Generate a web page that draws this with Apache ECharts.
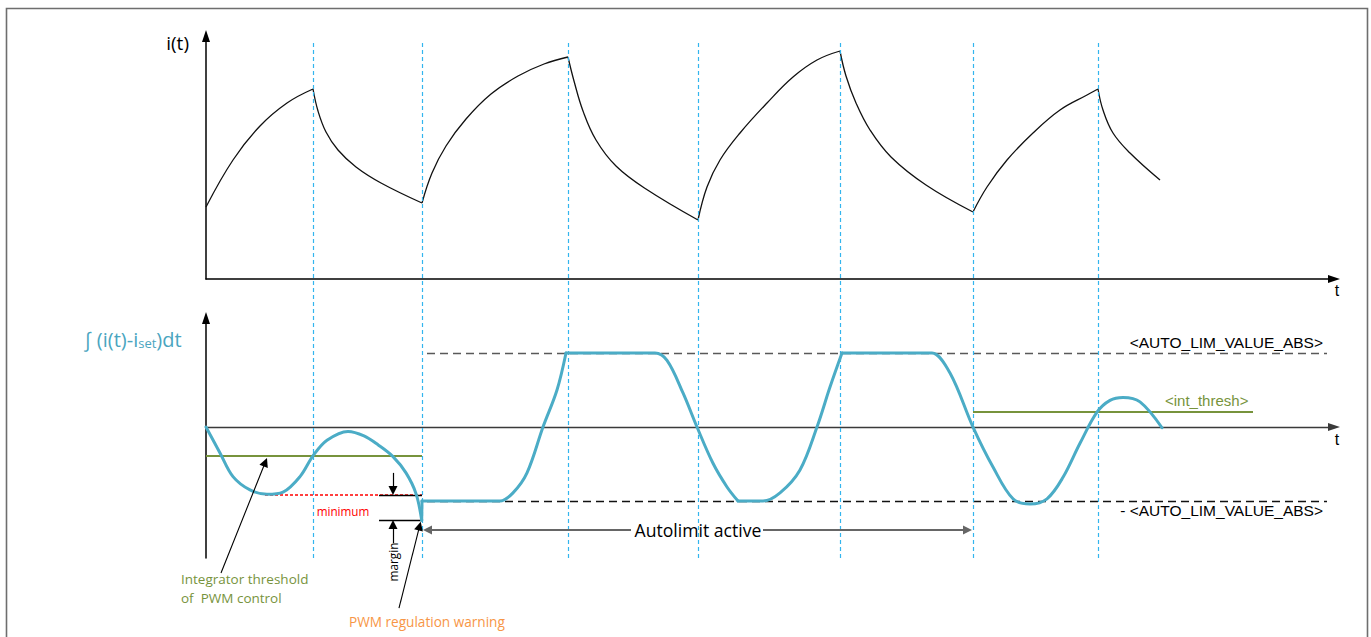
<!DOCTYPE html>
<html><head><meta charset="utf-8">
<script src="https://cdn.jsdelivr.net/npm/echarts/dist/echarts.min.js"></script>
<style>html,body{margin:0;padding:0;background:#fff}#c{width:1371px;height:637px}</style>
</head><body><div id="c"></div>
<script>
// switching instants (time units)
const switchT = [1.07, 2.16, 3.62, 4.92, 6.34, 7.67, 8.92];
// coil current i(t)
const currentT = [0, 0.27, 0.54, 0.81, 1.07, 1.12, 1.20, 1.32, 1.50, 1.75, 2.16, 2.26, 2.40, 2.60, 2.85, 3.12, 3.38, 3.62, 3.68, 3.77, 3.90, 4.10, 4.40, 4.92, 5.01, 5.14, 5.34, 5.61, 5.87, 6.11, 6.34, 6.40, 6.50, 6.64, 6.85, 7.20, 7.67, 7.81, 8.01, 8.27, 8.54, 8.81, 8.92, 8.97, 9.07, 9.24, 9.54];
const currentA = [0.72, 1.19, 1.53, 1.76, 1.90, 1.68, 1.47, 1.29, 1.12, 0.96, 0.76, 1.06, 1.33, 1.60, 1.85, 2.03, 2.15, 2.22, 1.98, 1.68, 1.39, 1.13, 0.90, 0.59, 0.92, 1.19, 1.46, 1.76, 2.02, 2.19, 2.28, 2.03, 1.76, 1.49, 1.22, 0.94, 0.67, 0.92, 1.19, 1.46, 1.69, 1.84, 1.90, 1.69, 1.46, 1.26, 0.99];
// integrator value (percent of AUTO_LIM_VALUE_ABS)
const integT = [0, 0.14, 0.27, 0.44, 0.61, 0.77, 0.94, 1.07, 1.21, 1.42, 1.58, 1.72, 1.87, 2.00, 2.10, 2.157, 2.16, 2.86, 2.94, 3.07, 3.21, 3.37, 3.51, 3.60, 4.40, 4.49, 4.61, 4.77, 4.91, 5.07, 5.21, 5.32, 5.50, 5.57, 5.74, 5.94, 6.11, 6.24, 6.36, 7.18, 7.26, 7.44, 7.67, 7.87, 8.07, 8.24, 8.41, 8.57, 8.74, 8.91, 9.04, 9.17, 9.34, 9.56];
const integV = [0, -35, -67, -85, -91, -88, -67, -39, -18, -6, -12, -24, -40, -62, -90, -126, -100, -100, -100, -89, -62, 0, 50, 100, 100, 100, 90, 46, 0, -49, -81, -100, -100, -100, -89, -58, 0, 54, 100, 100, 100, 73, 0, -54, -97, -104, -97, -68, -22, 20, 36, 40, 34, -1];
const integCornersT = [2.157, 2.16, 3.60, 5.32, 6.36];
// levels
const limitAbs = 100, intThresh = 20, pwmThresh = -39, minimumVal = -92, warnVal = -126;

const xMax = 11.28;
function splitSegs(ts, vs, corners) {
  const segs = []; let cur = [];
  ts.forEach((t, k) => {
    cur.push([t, vs[k]]);
    if (k > 0 && k < ts.length - 1 && corners.includes(t)) { segs.push(cur); cur = [[t, vs[k]]]; }
  });
  segs.push(cur); return segs;
}
const cyan = '#4BACC6', green = '#77933C', orange = '#F79646';
const series = [];
// vertical switching lines (overlay grid)
series.push({type: 'line', xAxisIndex: 2, yAxisIndex: 2, data: [], silent: true, z: 1,
  markLine: {symbol: 'none', silent: true, animation: false, label: {show: false},
    lineStyle: {color: '#33B5EE', type: [4, 3], width: 1.2},
    data: switchT.map(t => ({xAxis: t}))}});
splitSegs(currentT, currentA, switchT).forEach(seg => series.push({
  type: 'line', xAxisIndex: 0, yAxisIndex: 0, data: seg, smooth: 0.4, symbol: 'none', silent: true, z: 3,
  lineStyle: {color: '#111', width: 1.3}}));
// guide lines in integrator plot
const L = (a, b, style) => ({coords: [a, b], lineStyle: Object.assign({opacity: 1, curveness: 0}, style)});
series.push({type: 'lines', coordinateSystem: 'cartesian2d', xAxisIndex: 1, yAxisIndex: 1, clip: false, silent: true, z: 2,
  symbol: 'none', lineStyle: {opacity: 1}, data: [
    L([2.21, limitAbs], [11.21, limitAbs], {color: '#595959', width: 1.3, type: [8, 5]}),
    L([2.21, -limitAbs], [11.21, -limitAbs], {color: '#111', width: 1.3, type: [8, 5]}),
    L([0, pwmThresh], [2.16, pwmThresh], {color: green, width: 2, type: 'solid'}),
    L([7.67, intThresh], [10.47, intThresh], {color: green, width: 2, type: 'solid'}),
    L([0.59, minimumVal], [2.16, minimumVal], {color: '#FF0000', width: 1.6, type: [3, 2]}),
    L([1.73, minimumVal], [2.16, minimumVal], {color: '#000', width: 1.3, type: 'solid'}),
    L([1.73, warnVal], [2.16, warnVal], {color: '#000', width: 1.3, type: 'solid'})
  ]});
splitSegs(integT, integV, integCornersT).forEach(seg => series.push({
  type: 'line', xAxisIndex: 1, yAxisIndex: 1, data: seg, smooth: 0.35, symbol: 'none', silent: true, z: 5,
  lineStyle: {color: cyan, width: 3, cap: 'round', join: 'round'}}));
// annotation arrows
series.push({type: 'lines', coordinateSystem: 'cartesian2d', xAxisIndex: 1, yAxisIndex: 1, clip: false, silent: true, z: 6,
  symbol: ['none', 'triangle'], symbolSize: 9, lineStyle: {opacity: 1}, data: [
    L([1.87, -62], [1.87, -85.8], {color: '#000', width: 1.2}),
    L([1.87, -157], [1.87, -131.8], {color: '#000', width: 1.2}),
    L([0.15, -197.3], [0.593, -47.6], {color: '#000', width: 1.1}),
    L([1.93, -244.6], [2.136, -133.9], {color: '#000', width: 1.1}),
    L([4.25, -139.2], [2.215, -139.2], {color: '#666', width: 2}),
    L([5.57, -139.2], [7.615, -139.2], {color: '#666', width: 2})
  ]});

const hidden = {axisTick: {show: false}, axisLabel: {show: false}, splitLine: {show: false}};
const T = (x, y, text, o) => Object.assign({type: 'text', x: x, y: y, silent: true, z: 100,
  style: Object.assign({text: text, fill: '#000', fontSize: 14, fontFamily: 'Open Sans',
    align: 'left', verticalAlign: 'middle', textAlign: 'left', textVerticalAlign: 'middle'}, o || {})});
const chart = echarts.init(document.getElementById('c'), null, {renderer: 'svg'});
chart.setOption({
  animation: false,
  backgroundColor: '#fff',
  grid: [
    {left: 206, right: 37, top: 36, bottom: 358},
    {left: 206, right: 37, top: 318, bottom: 79},
    {left: 206, right: 37, top: 43, bottom: 79}
  ],
  xAxis: [
    Object.assign({gridIndex: 0, type: 'value', min: 0, max: xMax,
      axisLine: {symbol: ['none', 'triangle'], symbolSize: [8, 12], lineStyle: {color: '#000', width: 1.5}}}, hidden),
    Object.assign({gridIndex: 1, type: 'value', min: 0, max: xMax,
      axisLine: {onZero: true, symbol: ['none', 'triangle'], symbolSize: [8, 12], lineStyle: {color: '#3a3a3a', width: 1.3}}}, hidden),
    {gridIndex: 2, type: 'value', min: 0, max: xMax, show: false}
  ],
  yAxis: [
    Object.assign({gridIndex: 0, type: 'value', min: 0, max: 2.43,
      axisLine: {show: true, symbol: ['none', 'triangle'], symbolSize: [8, 12], lineStyle: {color: '#000', width: 1.5}}}, hidden),
    Object.assign({gridIndex: 1, type: 'value', min: -177, max: 147.3,
      axisLine: {show: true, symbol: ['none', 'triangle'], symbolSize: [8, 12], lineStyle: {color: '#000', width: 1.5}}}, hidden),
    {gridIndex: 2, type: 'value', min: 0, max: 1, show: false}
  ],
  graphic: [
    {type: 'rect', shape: {x: 6.5, y: 8.5, width: 1361, height: 640}, silent: true, z: 0,
      style: {fill: 'none', stroke: '#6e6e6e', lineWidth: 1.6}},
    T(189, 43, 'i(t)', {fontSize: 19, align: 'right', textAlign: 'right'}),
    T(84, 337, '{a|∫ (i(t)-i}{s|set}{a|)dt}', {rich: {
      a: {fontSize: 20, fontFamily: 'Open Sans', fill: '#4aa5c0', color: '#4aa5c0', lineHeight: 24, verticalAlign: 'bottom'},
      s: {fontSize: 13, fontFamily: 'Open Sans', fill: '#4aa5c0', color: '#4aa5c0', lineHeight: 20, verticalAlign: 'bottom'}}}),
    T(1337, 290, 't', {fontSize: 16, fontFamily: 'Liberation Sans', align: 'center', textAlign: 'center'}),
    T(1337, 439, 't', {fontSize: 16, fontFamily: 'Liberation Sans', align: 'center', textAlign: 'center'}),
    T(181, 579, 'Integrator threshold', {fontSize: 13.5, fill: green}),
    T(181, 598, 'of  PWM control', {fontSize: 13.5, fill: green}),
    T(349, 621, 'PWM regulation warning', {fontSize: 13.6, fill: orange}),
    T(343, 511, 'minimum', {fontSize: 11.7, fill: '#FF0000', align: 'center', textAlign: 'center'}),
    Object.assign(T(0, 0, 'margin', {fontSize: 11.8, align: 'center', textAlign: 'center'}), {x: 393, y: 562, rotation: Math.PI / 2}),
    T(698, 530, 'Autolimit active', {fontSize: 17.6, align: 'center', textAlign: 'center'}),
    T(1323, 342, '<AUTO_LIM_VALUE_ABS>', {fontSize: 15.5, fontFamily: 'Liberation Sans', align: 'right', textAlign: 'right'}),
    T(1323, 510, '- <AUTO_LIM_VALUE_ABS>', {fontSize: 15.5, fontFamily: 'Liberation Sans', align: 'right', textAlign: 'right'}),
    T(1165, 400, '<int_thresh>', {fontSize: 15, fontFamily: 'Liberation Sans', fill: green})
  ],
  series: series
});
</script></body></html>
